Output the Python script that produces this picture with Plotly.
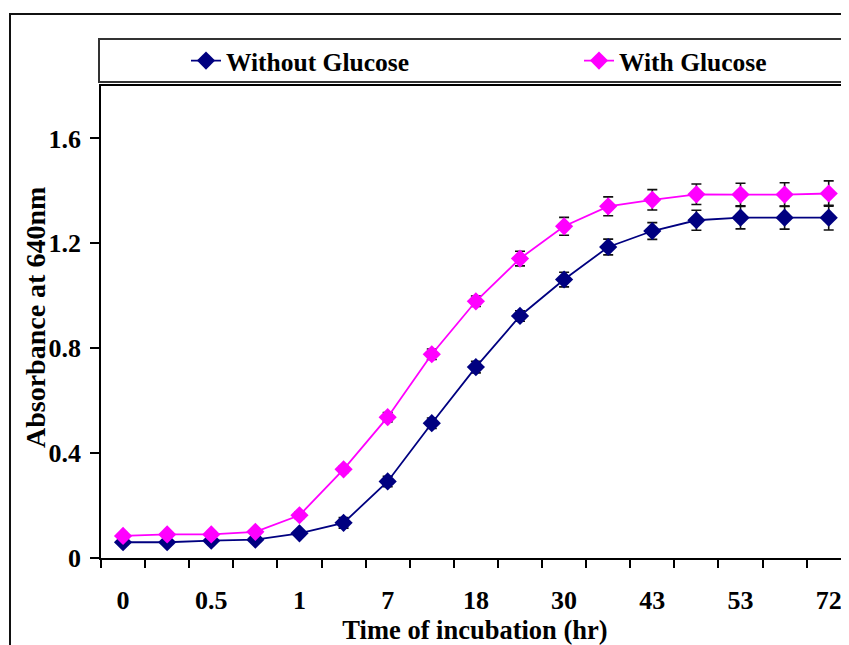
import plotly.graph_objects as go

# ---- data ----
x_index = list(range(17))
shown_label_index = [0, 2, 4, 6, 8, 10, 12, 14, 16]
shown_labels = ["0", "0.5", "1", "7", "18", "30", "43", "53", "72"]

without_glucose = [0.060, 0.060, 0.066, 0.070, 0.094, 0.134, 0.292, 0.514, 0.728,
                   0.923, 1.062, 1.186, 1.247, 1.288, 1.298, 1.298, 1.298]
without_err = [0.008, 0.008, 0.008, 0.008, 0.010, 0.020, 0.020, 0.020, 0.022,
               0.020, 0.028, 0.030, 0.032, 0.038, 0.043, 0.044, 0.047]

with_glucose = [0.084, 0.090, 0.090, 0.100, 0.163, 0.338, 0.537, 0.777, 0.979,
                1.142, 1.265, 1.341, 1.366, 1.387, 1.386, 1.386, 1.390]
with_err = [0.008, 0.008, 0.008, 0.008, 0.012, 0.012, 0.018, 0.020, 0.020,
            0.028, 0.034, 0.036, 0.039, 0.039, 0.043, 0.045, 0.048]

y_ticks = [0, 0.4, 0.8, 1.2, 1.6]
y_ticktext = ["0", "0.4", "0.8", "1.2", "1.6"]

x_title = "Time of incubation (hr)"
y_title = "Absorbance at 640nm"

FONT = "Times New Roman, Liberation Serif, serif"

fig = go.Figure()
fig.add_trace(go.Scatter(
    x=x_index, y=without_glucose, name="Without Glucose", mode="lines+markers",
    legend="legend",
    line=dict(color="#000080", width=1.8),
    marker=dict(symbol="diamond", size=14, color="#000080"),
    error_y=dict(type="data", array=without_err, visible=True,
                 color="#111111", thickness=1.6, width=5),
))
fig.add_trace(go.Scatter(
    x=x_index, y=with_glucose, name="With Glucose", mode="lines+markers",
    legend="legend2",
    line=dict(color="#FF00FF", width=1.8),
    marker=dict(symbol="diamond", size=14, color="#FF00FF"),
    error_y=dict(type="data", array=with_err, visible=True,
                 color="#111111", thickness=1.6, width=5),
))

# page has an 8px body margin: figure is drawn at (8, 8) in the window
OFF = 8
W, H = 849 - OFF, 645 - OFF
L, R, T, B = 93, 0, 78, 87
pw, ph = W - L - R, H - T - B

def px(xs):  # window x -> paper x
    return (xs - OFF - L) / pw

def py(ys):  # window y -> paper y
    return (H - B - (ys - OFF)) / ph

shapes = [
    # outer chart border (cropped on right and bottom)
    dict(type="rect", xref="paper", yref="paper", x0=px(10), x1=px(900),
         y0=py(700), y1=py(14), line=dict(color="#111", width=2)),
    # legend box
    dict(type="rect", xref="paper", yref="paper", x0=px(99), x1=px(900),
         y0=py(82), y1=py(39), line=dict(color="#333", width=2)),
]

annotations = [
    dict(text=y_title, xref="paper", yref="paper", x=px(35), y=py(318),
         xanchor="center", yanchor="middle", textangle=-90, showarrow=False,
         font=dict(family=FONT, size=28, weight="bold", color="black")),
]

legend_font = dict(family=FONT, size=25.5, weight="bold", color="black")

fig.update_layout(
    width=W, height=H,
    margin=dict(l=L, r=R, t=T, b=B, pad=0),
    paper_bgcolor="white", plot_bgcolor="white",
    font=dict(family=FONT, color="black", size=24, weight="bold"),
    showlegend=True,
    legend=dict(orientation="h", x=px(186), y=py(61), xanchor="left", yanchor="middle",
                font=legend_font, bgcolor="rgba(0,0,0,0)", borderwidth=0),
    legend2=dict(orientation="h", x=px(579), y=py(61), xanchor="left", yanchor="middle",
                 font=legend_font, bgcolor="rgba(0,0,0,0)", borderwidth=0),
    shapes=shapes,
    annotations=annotations,
    xaxis=dict(
        range=[-0.5, 16.46], tickmode="array", tickvals=shown_label_index,
        ticktext=shown_labels, ticks="", showgrid=False, zeroline=False,
        showline=True, linecolor="black", linewidth=1.5, mirror=True,
        tickfont=dict(family=FONT, size=26, weight="bold"),
        ticklabelstandoff=18,
        minor=dict(tickmode="linear", tick0=-0.5, dtick=1, ticks="outside",
                   ticklen=8, tickwidth=1.5, tickcolor="black", showgrid=False),
        title=dict(text=x_title, standoff=0,
                   font=dict(family=FONT, size=26.5, weight="bold")),
    ),
    yaxis=dict(
        range=[0, 1.8], tickmode="array", tickvals=y_ticks, ticktext=y_ticktext,
        ticks="outside", ticklen=9, tickwidth=1.5, tickcolor="black",
        showgrid=False, zeroline=False, showline=True, linecolor="black", linewidth=1.5,
        tickfont=dict(family=FONT, size=26, weight="bold"),
        ticklabelstandoff=4,
    ),
)

fig.write_html("out.html")
